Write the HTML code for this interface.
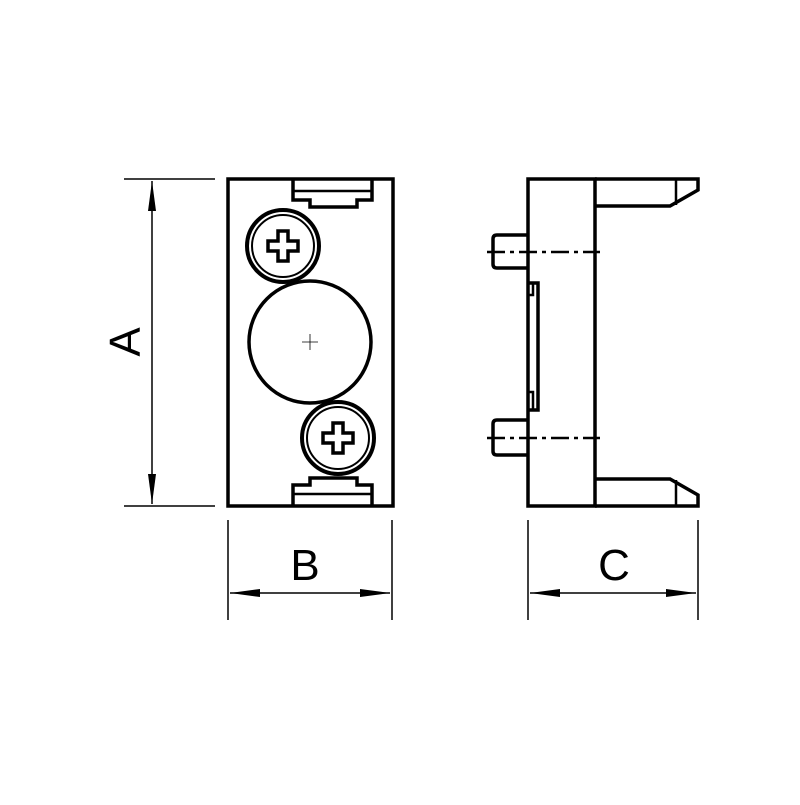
<!DOCTYPE html><html><head><style>body{margin:0;background:#fff}</style></head><body>
<svg width="800" height="800" viewBox="0 0 800 800" xmlns="http://www.w3.org/2000/svg">
<defs><marker id="ar" markerWidth="30" markerHeight="10" refX="30" refY="5" orient="auto" markerUnits="userSpaceOnUse"><path d="M0,1 L30,5 L0,9 Z" fill="#000"/></marker></defs>
<g fill="none" stroke="#000" stroke-width="3.5">
<rect x="228" y="179" width="165" height="327"/>
<path d="M293,179 V200 H310 V207 H357 V200 H372 V179"/>
<path d="M293,191 H372" stroke-width="2.5"/>
<path d="M293,506 V485 H310 V478 H357 V485 H372 V506"/>
<path d="M293,494 H372" stroke-width="2.5"/>
<circle cx="283" cy="246" r="36" stroke-width="4"/><circle cx="283" cy="246" r="31" stroke-width="2"/>
<path d="M278,231 h10 v10 h10 v10 h-10 v10 h-10 v-10 h-10 v-10 h10 z" stroke-width="3.5"/>
<circle cx="338" cy="438" r="36" stroke-width="4"/><circle cx="338" cy="438" r="31" stroke-width="2"/>
<path d="M333,423 h10 v10 h10 v10 h-10 v10 h-10 v-10 h-10 v-10 h10 z" stroke-width="3.5"/>
<circle cx="310" cy="342" r="61"/>
<path d="M302,342 h16 M310,334 v16" stroke-width="0.8"/>
<rect x="528" y="179" width="67" height="327"/>
<path d="M595,179 H698 V190 L670,206 H595"/>
<path d="M676,180 V205" stroke-width="2.5"/>
<path d="M595,506 H698 V495 L670,479 H595"/>
<path d="M676,505 V480" stroke-width="2.5"/>
<path d="M528,235 H497 Q493,235 493,239 V264 Q493,268 497,268 H528"/>
<path d="M528,420 H497 Q493,420 493,424 V451 Q493,455 497,455 H528"/>
<path d="M528,283 H538 V410 H528"/><path d="M528,295 H533 V283 M528,392 H533 V410" stroke-width="2.5"/>
<path d="M487,252 H600 M487,438 H600" stroke-width="2.5" stroke-dasharray="18,5,4,5"/>
</g>
<g stroke="#000" stroke-width="1.5" fill="none">
<path d="M124,179 H215 M124,506 H215"/>
<path d="M152,342 V181" marker-end="url(#ar)"/><path d="M152,342 V504" marker-end="url(#ar)"/>
<path d="M228,520 V620 M392,520 V620 M528,520 V620 M698,520 V620"/>
<path d="M310,593 H230" marker-end="url(#ar)"/><path d="M310,593 H390" marker-end="url(#ar)"/>
<path d="M613,593 H530" marker-end="url(#ar)"/><path d="M613,593 H696" marker-end="url(#ar)"/>
</g>
<g font-family="Liberation Sans, sans-serif" font-size="44" fill="#000" text-anchor="middle">
<text x="305" y="580">B</text><text x="614" y="580">C</text>
<text transform="translate(140,342) rotate(-90)">A</text>
</g>
</svg></body></html>
